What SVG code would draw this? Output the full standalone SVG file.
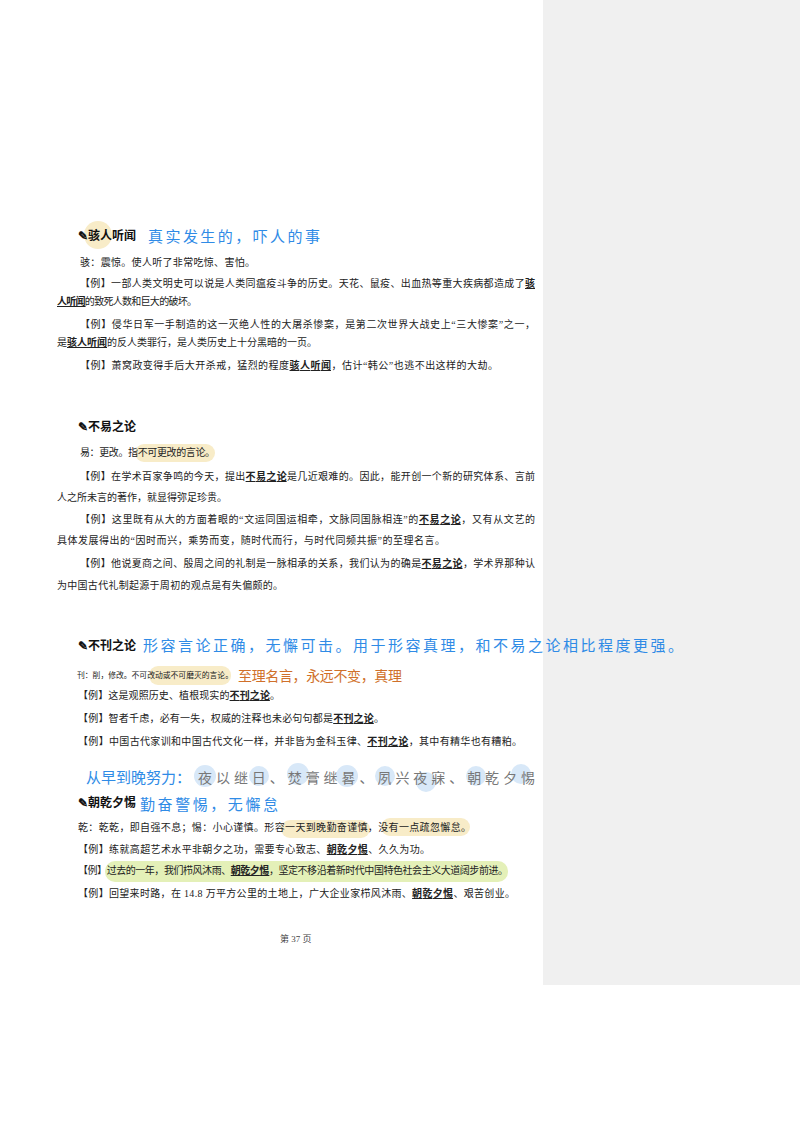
<svg xmlns="http://www.w3.org/2000/svg" width="800" height="1132" viewBox="0 0 800 1132">
<style>
text{font-family:"Liberation Serif","Noto Sans CJK SC",serif;fill:#222;font-size:10px}
.t{font-family:"Noto Sans CJK SC",sans-serif;font-weight:bold;font-size:12px;fill:#111}
.b{font-weight:bold;text-decoration:underline}
.hw{font-family:"Noto Sans CJK SC",sans-serif;fill:#2f8be6;font-size:15px}
.or{font-family:"Noto Sans CJK SC",sans-serif;fill:#d0702a;font-size:14px}
.gr{fill:#777;font-size:14px;font-family:"Noto Sans CJK SC",sans-serif}
.sm{font-size:7.8px}
.pg{font-size:9px;fill:#444}
.hl{fill:#f8ecc8}
.circ{fill:#d8e8f8}
</style>
<rect x="543" y="0" width="257" height="985" fill="#f0f0f0"/>
<g id="s1">
<circle cx="98" cy="235" r="14" class="hl"/>
<text class="t" x="78" y="240">✎骇人听闻</text>
<text class="hw" x="148" y="242" textLength="172" lengthAdjust="spacing">真实发生的，吓人的事</text>
<text x="80" y="266" textLength="175" lengthAdjust="spacing">骇：震惊。使人听了非常吃惊、害怕。</text>
<text x="80" y="287" textLength="455" lengthAdjust="spacing">【例】一部人类文明史可以说是人类同瘟疫斗争的历史。天花、鼠疫、出血热等重大疾病都造成了<tspan class="b">骇</tspan></text>
<text x="57" y="305" textLength="140" lengthAdjust="spacing"><tspan class="b">人听闻</tspan>的致死人数和巨大的破坏。</text>
<text x="80" y="328" textLength="455" lengthAdjust="spacing">【例】侵华日军一手制造的这一灭绝人性的大屠杀惨案，是第二次世界大战史上“三大惨案”之一，</text>
<text x="57" y="346" textLength="260" lengthAdjust="spacing">是<tspan class="b">骇人听闻</tspan>的反人类罪行，是人类历史上十分黑暗的一页。</text>
<text x="80" y="369" textLength="418" lengthAdjust="spacing">【例】萧窝政变得手后大开杀戒，猛烈的程度<tspan class="b">骇人听闻</tspan>，估计“韩公”也逃不出这样的大劫。</text>
</g>
<g id="s2">
<text class="t" x="78" y="431">✎不易之论</text>
<rect x="135" y="444" width="80" height="18" rx="9" class="hl"/>
<text x="80" y="456" textLength="135" lengthAdjust="spacing">易：更改。指不可更改的言论。</text>
<text x="80" y="480" textLength="455" lengthAdjust="spacing">【例】在学术百家争鸣的今天，提出<tspan class="b">不易之论</tspan>是几近艰难的。因此，能开创一个新的研究体系、言前</text>
<text x="57" y="501">人之所未言的著作，就显得弥足珍贵。</text>
<text x="80" y="523" textLength="455" lengthAdjust="spacing">【例】这里既有从大的方面着眼的“文运同国运相牵，文脉同国脉相连”的<tspan class="b">不易之论</tspan>，又有从文艺的</text>
<text x="57" y="544" textLength="388" lengthAdjust="spacing">具体发展得出的“因时而兴，乘势而变，随时代而行，与时代同频共振”的至理名言。</text>
<text x="80" y="567" textLength="455" lengthAdjust="spacing">【例】他说夏商之间、殷周之间的礼制是一脉相承的关系，我们认为的确是<tspan class="b">不易之论</tspan>，学术界那种认</text>
<text x="57" y="589" textLength="226" lengthAdjust="spacing">为中国古代礼制起源于周初的观点是有失偏颇的。</text>
</g>
<g id="s3">
<text class="t" x="78" y="650">✎不刊之论</text>
<text class="hw" x="143" y="651" textLength="540" lengthAdjust="spacing">形容言论正确，无懈可击。用于形容真理，和不易之论相比程度更强。</text>
<rect x="149" y="666" width="82" height="19" rx="9" class="hl"/>
<text class="sm" x="77" y="678">刊：削，修改。不可改动或不可磨灭的言论。</text>
<text class="or" x="238" y="681" textLength="164" lengthAdjust="spacing">至理名言，永远不变，真理</text>
<text x="78" y="699" textLength="202" lengthAdjust="spacing">【例】这是观照历史、植根现实的<tspan class="b">不刊之论</tspan>。</text>
<text x="78" y="722" textLength="306" lengthAdjust="spacing">【例】智者千虑，必有一失，权威的注释也未必句句都是<tspan class="b">不刊之论</tspan>。</text>
<text x="78" y="745" textLength="444" lengthAdjust="spacing">【例】中国古代家训和中国古代文化一样，并非皆为金科玉律、<tspan class="b">不刊之论</tspan>，其中有精华也有糟粕。</text>
</g>
<g id="s4">
<circle cx="205" cy="776" r="11" class="circ"/>
<circle cx="259" cy="776" r="10" class="circ"/>
<circle cx="298" cy="774" r="11" class="circ"/>
<circle cx="347" cy="776" r="11" class="circ"/>
<circle cx="385" cy="776" r="10" class="circ"/>
<circle cx="426" cy="782" r="10" class="circ"/>
<circle cx="476" cy="776" r="10" class="circ"/>
<circle cx="521" cy="774" r="10" class="circ"/>
<text class="hw" x="86" y="783" textLength="105" lengthAdjust="spacing">从早到晚努力：</text>
<text class="gr" x="198" y="783" textLength="337" lengthAdjust="spacing">夜以继日、焚膏继晷、夙兴夜寐、朝乾夕惕</text>
<text class="t" x="78" y="807">✎朝乾夕惕</text>
<text class="hw" x="140" y="810" textLength="138" lengthAdjust="spacing">勤奋警惕，无懈怠</text>
<rect x="281" y="820" width="89" height="18" rx="9" class="hl"/>
<rect x="381" y="818" width="89" height="18" rx="9" class="hl"/>
<text x="78" y="831" textLength="393" lengthAdjust="spacing">乾：乾乾，即自强不息；惕：小心谨慎。形容一天到晚勤奋谨慎，没有一点疏忽懈怠。</text>
<text x="78" y="853" textLength="352" lengthAdjust="spacing">【例】练就高超艺术水平非朝夕之功，需要专心致志、<tspan class="b">朝乾夕惕</tspan>、久久为功。</text>
<rect x="105" y="861" width="403" height="21" rx="10" fill="#e4f0b8"/>
<text x="78" y="874" textLength="430" lengthAdjust="spacing">【例】过去的一年，我们栉风沐雨、<tspan class="b">朝乾夕惕</tspan>，坚定不移沿着新时代中国特色社会主义大道阔步前进。</text>
<text x="78" y="897" textLength="437" lengthAdjust="spacing">【例】回望来时路，在 14.8 万平方公里的土地上，广大企业家栉风沐雨、<tspan class="b">朝乾夕惕</tspan>、艰苦创业。</text>
</g>
<text class="pg" x="280" y="942">第 37 页</text>
</svg>
